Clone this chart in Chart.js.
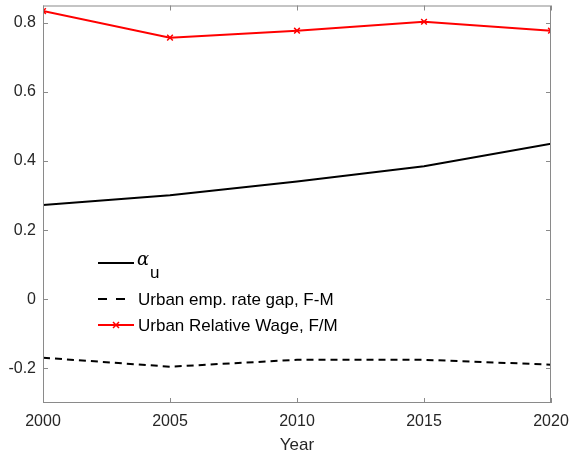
<!DOCTYPE html>
<html>
<head>
<meta charset="utf-8">
<script src="https://cdn.jsdelivr.net/npm/chart.js@4.4.1/dist/chart.umd.min.js"></script>
<style>
  html, body { margin: 0; padding: 0; background: #fff; }
  #wrap { width: 570px; height: 456px; position: relative; }
</style>
</head>
<body>
<div id="wrap"><canvas id="c" width="570" height="456"></canvas></div>
<script>
const years = [2000, 2005, 2010, 2015, 2020];
const alphaU = [0.273, 0.301, 0.341, 0.385, 0.450];
const empRateGap = [-0.169, -0.195, -0.175, -0.175, -0.189];
const relWage = [0.834, 0.757, 0.777, 0.803, 0.777];
const yTicks = [-0.2, 0, 0.2, 0.4, 0.6, 0.8];

const AXIS_GRAY = '#8a8a8a';
const TEXT = '#262626';
const FONT = '"Liberation Sans", Arial, Helvetica, sans-serif';

const pts = arr => years.map((y, i) => ({ x: years[i], y: arr[i] }));

// Box around the plot area plus MATLAB-style inward tick marks
const boxTicks = {
  id: 'boxTicks',
  afterDatasetsDraw(chart) {
    const { ctx, chartArea: a, scales } = chart;
    ctx.save();
    ctx.strokeStyle = AXIS_GRAY;
    ctx.lineWidth = 1;
    ctx.strokeRect(a.left + 0.5, a.top + 0.5, a.right - a.left - 1, a.bottom - a.top - 1);
    const L = 5;
    ctx.beginPath();
    years.forEach(v => {
      const x = Math.round(scales.x.getPixelForValue(v)) + 0.5;
      ctx.moveTo(x, a.bottom); ctx.lineTo(x, a.bottom - L);
      ctx.moveTo(x, a.top); ctx.lineTo(x, a.top + L);
    });
    yTicks.forEach(v => {
      const y = Math.round(scales.y.getPixelForValue(v)) + 0.5;
      ctx.moveTo(a.left, y); ctx.lineTo(a.left + L, y);
      ctx.moveTo(a.right, y); ctx.lineTo(a.right - L, y);
    });
    ctx.stroke();
    ctx.restore();
  }
};

// Legend drawn inside the axes, with a subscripted alpha entry
const innerLegend = {
  id: 'innerLegend',
  afterDraw(chart) {
    const { ctx } = chart;
    const x0 = 98, x1 = 134, tx = 138;
    const rows = [263, 299, 325];
    ctx.save();
    ctx.lineWidth = 2;
    // alpha_u
    ctx.strokeStyle = '#000';
    ctx.beginPath(); ctx.moveTo(x0, rows[0]); ctx.lineTo(x1, rows[0]); ctx.stroke();
    ctx.fillStyle = '#000';
    ctx.textBaseline = 'middle';
    ctx.font = 'italic 18px "DejaVu Serif", serif';
    ctx.fillText('\u03b1', tx - 1, rows[0] - 3);
    ctx.font = '17px ' + FONT;
    ctx.fillText('u', tx + 12, rows[0] + 10);
    // dashed
    ctx.setLineDash([9, 9]);
    ctx.beginPath(); ctx.moveTo(x0, rows[1]); ctx.lineTo(x1, rows[1]); ctx.stroke();
    ctx.setLineDash([]);
    ctx.font = '17px ' + FONT;
    ctx.fillText(chart.data.datasets[1].label, tx, rows[1] + 1);
    // red with marker
    ctx.strokeStyle = '#ff0000';
    ctx.beginPath(); ctx.moveTo(x0, rows[2]); ctx.lineTo(x1, rows[2]); ctx.stroke();
    const mx = (x0 + x1) / 2, s = 3;
    ctx.lineWidth = 1.5;
    ctx.beginPath();
    ctx.moveTo(mx - s, rows[2] - s); ctx.lineTo(mx + s, rows[2] + s);
    ctx.moveTo(mx - s, rows[2] + s); ctx.lineTo(mx + s, rows[2] - s);
    ctx.stroke();
    ctx.fillText(chart.data.datasets[2].label, tx, rows[2] + 1);
    ctx.restore();
  }
};

new Chart(document.getElementById('c'), {
  type: 'line',
  data: {
    datasets: [
      { label: '\u03b1u', data: pts(alphaU), borderColor: '#000', borderWidth: 2, pointRadius: 0, tension: 0 },
      { label: 'Urban emp. rate gap, F-M', data: pts(empRateGap), borderColor: '#000', borderWidth: 2, borderDash: [7, 5], pointRadius: 0, tension: 0 },
      { label: 'Urban Relative Wage, F/M', data: pts(relWage), borderColor: '#ff0000', backgroundColor: '#ff0000', borderWidth: 2,
        pointStyle: 'crossRot', pointRadius: 4, pointBorderWidth: 1.5, pointBorderColor: '#ff0000', tension: 0 }
    ]
  },
  options: {
    responsive: false,
    animation: false,
    layout: { padding: { top: 3, right: 19, left: 0, bottom: 0 } },
    plugins: { legend: { display: false }, tooltip: { enabled: false } },
    scales: {
      x: {
        type: 'linear', min: 2000, max: 2020,
        afterFit(s) { s.height = 53; s.paddingLeft = 0; s.paddingRight = 0; },
        afterBuildTicks(s) { s.ticks = years.map(v => ({ value: v })); },
        grid: { display: false, drawTicks: false },
        border: { display: false },
        ticks: { color: TEXT, font: { family: FONT, size: 16 }, padding: 9, maxRotation: 0, callback: v => String(v) },
        title: { display: true, text: 'Year', color: TEXT, font: { family: FONT, size: 17 }, padding: { top: 0, bottom: 0 } }
      },
      y: {
        min: -0.3, max: 0.85,
        afterFit(s) { s.width = 43; s.paddingTop = 0; s.paddingBottom = 0; },
        afterBuildTicks(s) { s.ticks = yTicks.map(v => ({ value: v })); },
        grid: { display: false, drawTicks: false },
        border: { display: false },
        ticks: { color: TEXT, font: { family: FONT, size: 16 }, padding: 7, callback: v => (Math.abs(v) < 1e-9 ? '0' : String(Math.round(v * 10) / 10)) }
      }
    }
  },
  plugins: [boxTicks, innerLegend]
});
</script>
</body>
</html>
